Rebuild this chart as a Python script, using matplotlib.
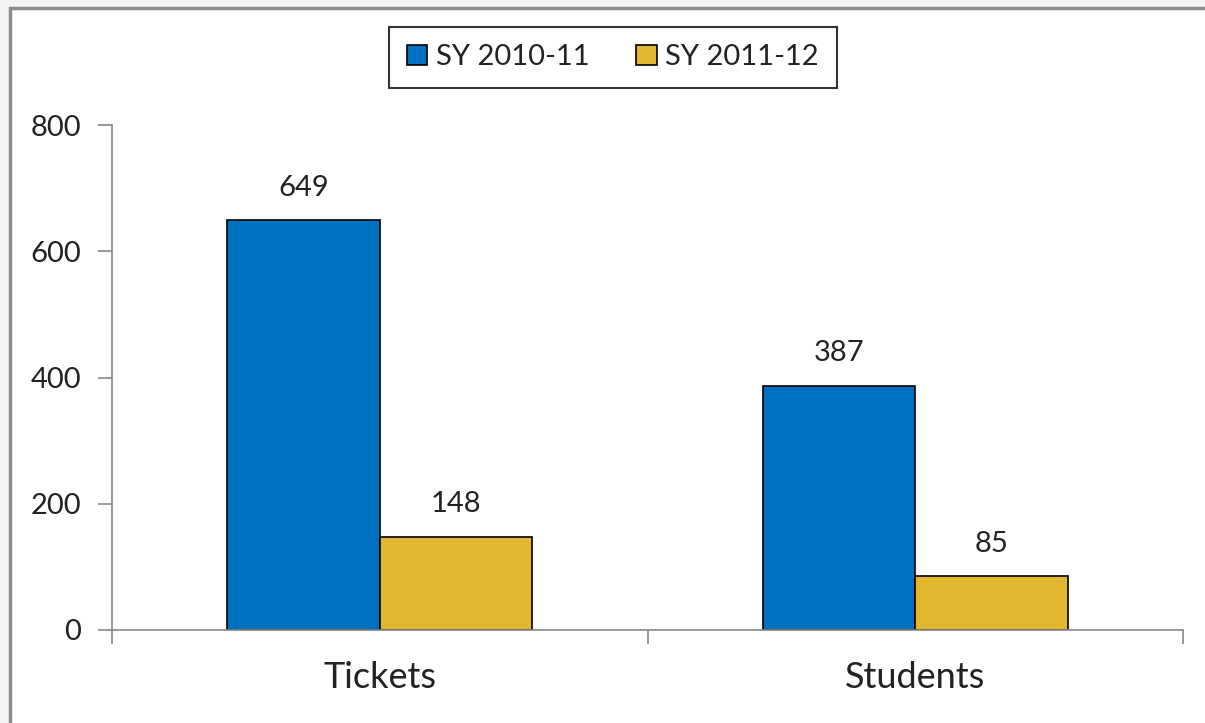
import matplotlib.pyplot as plt
from matplotlib.patches import Rectangle
import numpy as np

# Chart data
categories = ['Tickets', 'Students']
series_names = ['SY 2010-11', 'SY 2011-12']
sy_2010_11 = [649, 387]
sy_2011_12 = [148, 85]
y_ticks = [0, 200, 400, 600, 800]

colors = ['#0070C0', '#E0B72F']

plt.rcParams['font.family'] = ['Lato', 'DejaVu Sans']

fig = plt.figure(figsize=(12.05, 7.23), dpi=100, facecolor='#f4f4f4')
# white chart area with grey frame (cut at right/bottom like the screenshot)
fig.patches.append(Rectangle((10 / 1205, -0.05), 1.1, 1 - 8 / 723 + 0.05,
                             transform=fig.transFigure, facecolor='white',
                             edgecolor='#8c8c8c', linewidth=2.5, zorder=-10))

ax = fig.add_axes([112 / 1205, 1 - 630 / 723, (1183 - 112) / 1205, (630 - 125) / 723])
ax.set_facecolor('none')

x = np.arange(len(categories))
width = 0.285
bars1 = ax.bar(x - width / 2, sy_2010_11, width, color=colors[0], edgecolor='black',
               linewidth=1.2, label=series_names[0])
bars2 = ax.bar(x + width / 2, sy_2011_12, width, color=colors[1], edgecolor='black',
               linewidth=1.2, label=series_names[1])

for bars in (bars1, bars2):
    for b in bars:
        ax.annotate(f'{int(b.get_height())}', (b.get_x() + b.get_width() / 2, b.get_height()),
                    xytext=(0, 14), textcoords='offset points', ha='center', va='bottom',
                    fontsize=21, color='#222222')

ax.set_xlim(-0.5, 1.5)
ax.set_ylim(0, 800)
ax.set_yticks(y_ticks)
ax.tick_params(axis='y', labelsize=21, length=10, width=1.2, color='#888888', pad=12,
               labelcolor='#222222')

# category labels centred, ticks on category boundaries
ax.set_xticks(x)
ax.set_xticklabels(categories, fontsize=26, color='#222222')
ax.tick_params(axis='x', which='major', length=0, pad=22)
ax.set_xticks([-0.5, 0.5, 1.5], minor=True)
ax.tick_params(axis='x', which='minor', length=10, width=1.2, color='#888888')

for side in ('top', 'right'):
    ax.spines[side].set_visible(False)
for side in ('left', 'bottom'):
    ax.spines[side].set_color('#888888')
    ax.spines[side].set_linewidth(1.2)

leg = fig.legend(loc='center', bbox_to_anchor=(613 / 1205, 1 - 57 / 723), ncol=2,
                 fontsize=21, frameon=True, fancybox=False, handlelength=0.7,
                 handleheight=0.7, handletextpad=0.3, columnspacing=1.6,
                 borderpad=0.6, borderaxespad=0, labelcolor='#222222')
leg.get_frame().set_edgecolor('black')
leg.get_frame().set_linewidth(1.5)
leg.get_frame().set_boxstyle('square', pad=0)

fig.savefig('out.png', dpi=100, facecolor=fig.get_facecolor())
